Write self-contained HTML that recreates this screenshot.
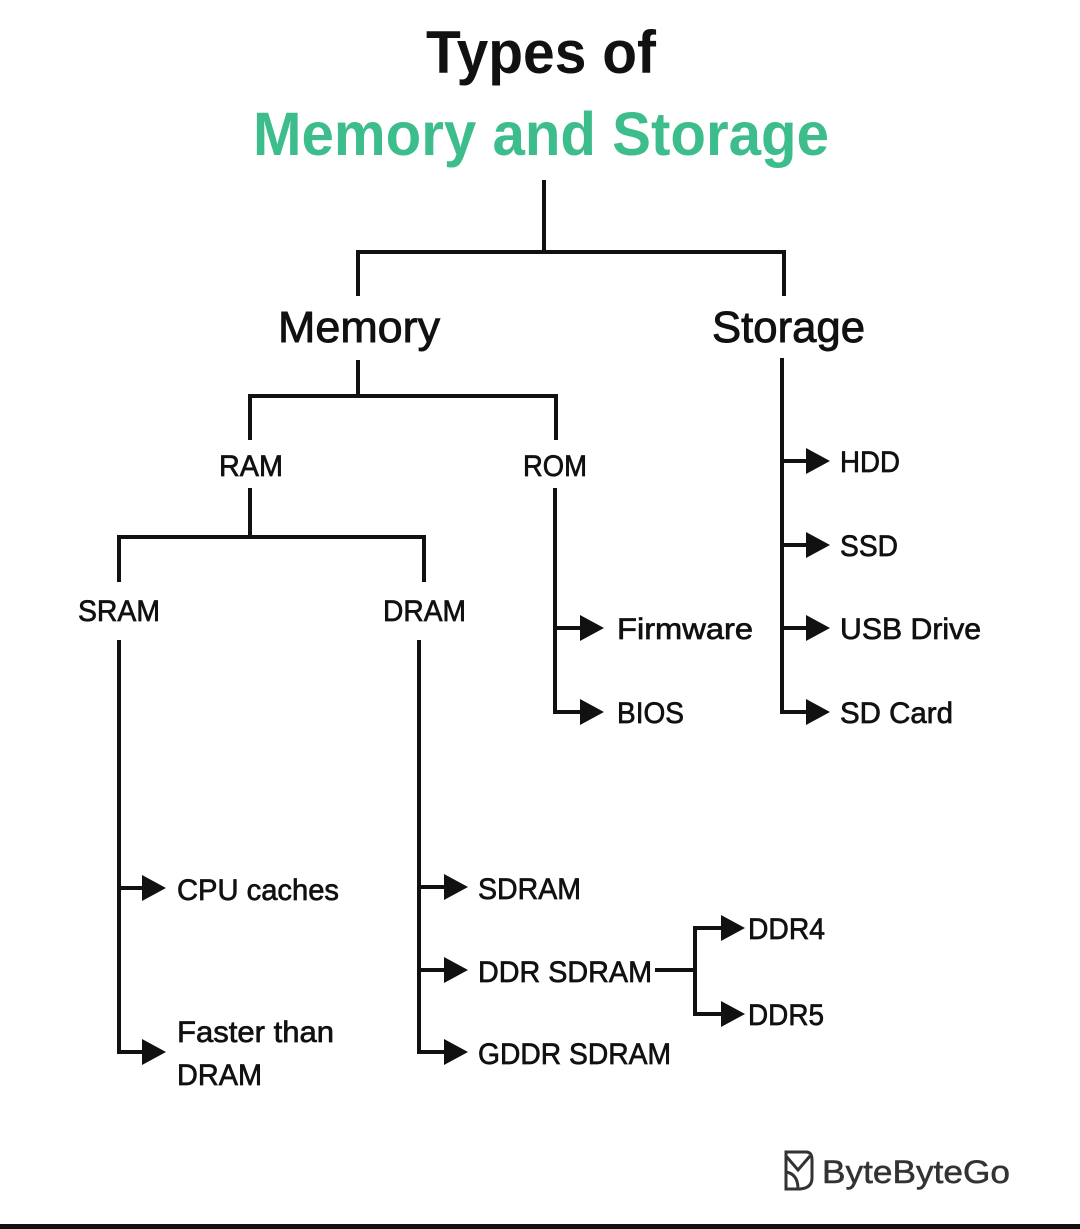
<!DOCTYPE html>
<html><head><meta charset="utf-8"><style>
html,body{margin:0;padding:0;background:#fff;width:1080px;height:1229px;overflow:hidden}
svg{display:block}
text{font-family:"Liberation Sans",sans-serif;fill:#111}
.m{stroke:#111;stroke-width:0.7px}
.l{stroke:#111;stroke-width:0.9px}
</style></head><body>
<svg width="1080" height="1229" viewBox="0 0 1080 1229" xmlns="http://www.w3.org/2000/svg">
<g font-weight="bold">
<text x="541" y="73" font-size="60" text-anchor="middle" textLength="230" lengthAdjust="spacingAndGlyphs">Types of</text>
<text x="541" y="155" font-size="61" text-anchor="middle" textLength="576" lengthAdjust="spacingAndGlyphs" style="fill:#3dbd8b">Memory and Storage</text>
</g>
<g stroke="#111" stroke-width="4" fill="none" stroke-linecap="butt">
<polyline points="544,180 544,252"/>
<polyline points="358,296 358,252 784,252 784,296"/>
<polyline points="358,360 358,396"/>
<polyline points="250,440 250,396 556,396 556,440"/>
<polyline points="250,488 250,537"/>
<polyline points="119,582 119,537 424,537 424,582"/>
<polyline points="119,640 119,1052 146,1052"/>
<line x1="119" y1="888" x2="146" y2="888"/>
<polyline points="419,640 419,1052 446,1052"/>
<line x1="419" y1="887" x2="446" y2="887"/>
<line x1="419" y1="970" x2="446" y2="970"/>
<line x1="655" y1="970" x2="695" y2="970"/>
<polyline points="722,928 695,928 695,1014 722,1014"/>
<polyline points="555,488 555,712 582,712"/>
<line x1="555" y1="628" x2="582" y2="628"/>
<polyline points="782,358 782,712 808,712"/>
<line x1="782" y1="461" x2="808" y2="461"/>
<line x1="782" y1="545" x2="808" y2="545"/>
<line x1="782" y1="628" x2="808" y2="628"/>
</g>
<g fill="#111">
<polygon points="142,875 166,888 142,901"/>
<polygon points="142,1039 166,1052 142,1065"/>
<polygon points="444,874 468,887 444,900"/>
<polygon points="444,957 468,970 444,983"/>
<polygon points="444,1039 468,1052 444,1065"/>
<polygon points="721,915 745,928 721,941"/>
<polygon points="721,1001 745,1014 721,1027"/>
<polygon points="580,615 604,628 580,641"/>
<polygon points="580,699 604,712 580,725"/>
<polygon points="806,448 830,461 806,474"/>
<polygon points="806,532 830,545 806,558"/>
<polygon points="806,615 830,628 806,641"/>
<polygon points="806,699 830,712 806,725"/>
</g>
<text class="l" x="278" y="342" font-size="44" textLength="162" lengthAdjust="spacingAndGlyphs">Memory</text>
<text class="l" x="712" y="342" font-size="44" textLength="153" lengthAdjust="spacingAndGlyphs">Storage</text>
<g font-size="30" class="m">
<text x="219" y="476" textLength="64" lengthAdjust="spacingAndGlyphs">RAM</text>
<text x="523" y="476" textLength="64" lengthAdjust="spacingAndGlyphs">ROM</text>
<text x="78" y="621" textLength="82" lengthAdjust="spacingAndGlyphs">SRAM</text>
<text x="383" y="621" textLength="83" lengthAdjust="spacingAndGlyphs">DRAM</text>
<text x="177" y="900" textLength="162" lengthAdjust="spacingAndGlyphs">CPU caches</text>
<text x="177" y="1042" textLength="157" lengthAdjust="spacingAndGlyphs">Faster than</text>
<text x="177" y="1085" textLength="85" lengthAdjust="spacingAndGlyphs">DRAM</text>
<text x="478" y="899" textLength="103" lengthAdjust="spacingAndGlyphs">SDRAM</text>
<text x="478" y="982" textLength="174" lengthAdjust="spacingAndGlyphs">DDR SDRAM</text>
<text x="478" y="1064" textLength="193" lengthAdjust="spacingAndGlyphs">GDDR SDRAM</text>
<text x="748" y="939" textLength="77" lengthAdjust="spacingAndGlyphs">DDR4</text>
<text x="748" y="1025" textLength="76" lengthAdjust="spacingAndGlyphs">DDR5</text>
<text x="617" y="639" textLength="136" lengthAdjust="spacingAndGlyphs">Firmware</text>
<text x="617" y="723" textLength="67" lengthAdjust="spacingAndGlyphs">BIOS</text>
<text x="840" y="472" textLength="60" lengthAdjust="spacingAndGlyphs">HDD</text>
<text x="840" y="556" textLength="58" lengthAdjust="spacingAndGlyphs">SSD</text>
<text x="840" y="639" textLength="141" lengthAdjust="spacingAndGlyphs">USB Drive</text>
<text x="840" y="723" textLength="113" lengthAdjust="spacingAndGlyphs">SD Card</text>
</g>
<g stroke="#333" stroke-width="3" fill="none">
<path d="M786,1152 L806,1152 Q812,1152 812,1160 L812,1178 Q812,1188 800,1189 L786,1189 Z"/>
<path d="M786,1156 L798,1170 L810,1156"/>
<path d="M786,1172 Q798,1174 798,1189"/>
</g>
<text x="822" y="1183" font-size="32" style="fill:#333;stroke:#333;stroke-width:0.5px" textLength="188" lengthAdjust="spacingAndGlyphs">ByteByteGo</text>
<rect x="0" y="1224" width="1080" height="5" fill="#111"/>
</svg>
</body></html>
